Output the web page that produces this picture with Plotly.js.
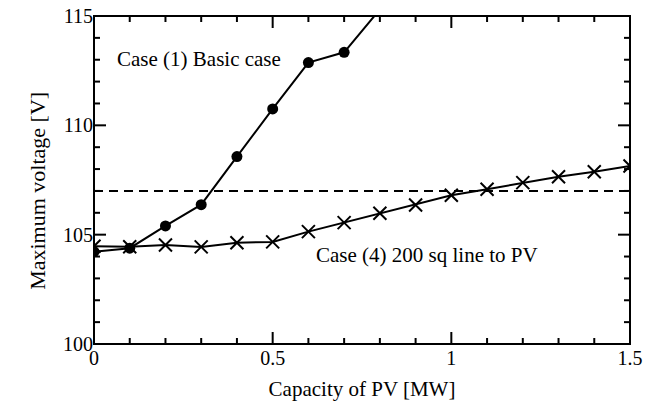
<!DOCTYPE html>
<html>
<head>
<meta charset="utf-8">
<script src="https://cdn.plot.ly/plotly-3.0.1.min.js"></script>
<style>html,body{margin:0;padding:0;background:#fff;}#chart{width:667px;height:407px;}</style>
</head>
<body>
<div id="chart"></div>
<script>
// PV capacity [MW]
const capacity = [0, 0.1, 0.2, 0.3, 0.4, 0.5, 0.6, 0.7, 0.8, 0.9, 1.0, 1.1, 1.2, 1.3, 1.4, 1.5];
// Case (1) basic case: maximum voltage [V]
const basicCapacity = [0, 0.1, 0.2, 0.3, 0.4, 0.5, 0.6, 0.7, 0.8];
const basicVoltage = [104.22, 104.38, 105.40, 106.37, 108.57, 110.75, 112.87, 113.34, 115.3];
// Case (4) 200 sq line to PV: maximum voltage [V]
const sqVoltage = [104.47, 104.45, 104.53, 104.44, 104.63, 104.67, 105.14, 105.55, 105.98, 106.36, 106.80, 107.08, 107.38, 107.65, 107.88, 108.14];
// Voltage limit [V]
const limitX = [0, 1.5];
const limitV = [107, 107];
// Axis ranges and tick steps
const xRange = [0, 1.5], xMajor = 0.5, xMinor = 0.1;
const yRange = [100, 115], yMajor = 5, yMinor = 1;
const caseLabels = ['Case (1) Basic case', 'Case (4) 200 sq line to PV'];
const xTitle = 'Capacity of PV [MW]';
const yTitle = 'Maximum voltage [V]';

const serif = 'Liberation Serif';
const W = 667, H = 407;
const margin = {l: 94, r: 37, t: 16, b: 63};
const plotW = W - margin.l - margin.r, plotH = H - margin.t - margin.b;
const majorLen = 12, minorLen = 6;

const traces = [
  {
    x: limitX, y: limitV, mode: 'lines',
    line: {color: '#000', width: 2, dash: '9px,6px'},
    hoverinfo: 'skip'
  },
  {
    x: basicCapacity, y: basicVoltage, mode: 'lines+markers',
    line: {color: '#000', width: 2},
    marker: {symbol: 'circle', size: 11, color: '#000'}
  },
  {
    x: capacity, y: sqVoltage, mode: 'lines+markers',
    line: {color: '#000', width: 2},
    marker: {symbol: 'x-thin', size: 13, color: '#000', line: {color: '#000', width: 2}}
  }
];

// Tick positions along an axis at the minor step, flagged when they fall on a major step
function tickList(range, minor, major) {
  const n = Math.round((range[1] - range[0]) / minor);
  const out = [];
  for (let i = 0; i <= n; i++) {
    const v = +(range[0] + i * minor).toFixed(6);
    const r = v / major;
    out.push({v: v, major: Math.abs(r - Math.round(r)) < 1e-6});
  }
  return out;
}

// Inward ticks on all four sides of the frame
const tickLine = {color: '#000', width: 2};
const shapes = [
  {type: 'rect', xref: 'paper', yref: 'paper', x0: 0, x1: 1, y0: 0, y1: 1, line: {color: '#000', width: 2}}
];
tickList(xRange, xMinor, xMajor).forEach(function (t) {
  const f = (t.major ? majorLen : minorLen) / plotH;
  shapes.push({type: 'line', xref: 'x', yref: 'paper', x0: t.v, x1: t.v, y0: 0, y1: f, line: tickLine});
  shapes.push({type: 'line', xref: 'x', yref: 'paper', x0: t.v, x1: t.v, y0: 1, y1: 1 - f, line: tickLine});
});
tickList(yRange, yMinor, yMajor).forEach(function (t) {
  const f = (t.major ? majorLen : minorLen) / plotW;
  shapes.push({type: 'line', xref: 'paper', yref: 'y', x0: 0, x1: f, y0: t.v, y1: t.v, line: tickLine});
  shapes.push({type: 'line', xref: 'paper', yref: 'y', x0: 1, x1: 1 - f, y0: t.v, y1: t.v, line: tickLine});
});

const layout = {
  width: W, height: H,
  margin: margin,
  showlegend: false,
  font: {family: serif, color: '#000'},
  xaxis: {
    range: xRange, showgrid: false, zeroline: false, ticks: '',
    tickmode: 'linear', tick0: 0, dtick: xMajor,
    tickfont: {family: serif, size: 20, color: '#000'},
    title: {text: xTitle, font: {family: serif, size: 21, color: '#000'}, standoff: 13}
  },
  yaxis: {
    range: yRange, showgrid: false, zeroline: false, ticks: '',
    tickmode: 'linear', tick0: 100, dtick: yMajor,
    tickfont: {family: serif, size: 20, color: '#000'}
  },
  shapes: shapes,
  annotations: [
    {x: 0.294, y: 113.03, xref: 'x', yref: 'y', text: caseLabels[0], showarrow: false,
     font: {family: serif, size: 21, color: '#000'}},
    {x: 0.932, y: 104.07, xref: 'x', yref: 'y', text: caseLabels[1], showarrow: false,
     font: {family: serif, size: 21, color: '#000'}},
    {x: -0.134, y: 0.466, xref: 'paper', yref: 'paper', text: yTitle, textangle: -90, showarrow: false,
     font: {family: serif, size: 22, color: '#000'}}
  ]
};

Plotly.newPlot('chart', traces, layout, {displayModeBar: false});
</script>
</body>
</html>
